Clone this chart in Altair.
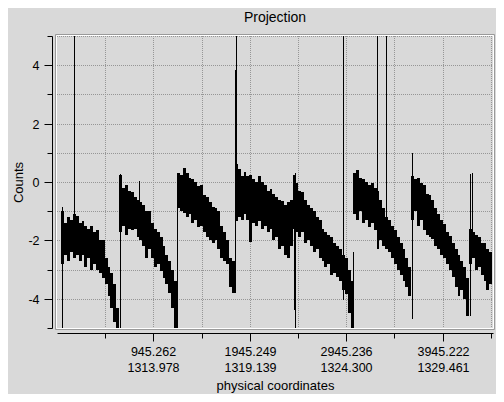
import altair as alt
import pandas as pd

FONT = "Liberation Sans"
TITLE = "Projection"
X_TITLE = "physical coordinates"
Y_TITLE = "Counts"

X_DOMAIN = [0, 4523]
Y_DOMAIN = [-5, 5]
X_TICKS = [500, 1000, 1500, 2000, 2500, 3000, 3500, 4000, 4500]
X_MAJOR = [1000, 2000, 3000, 4000]
X_LABEL_TOP = ["945.262", "1945.249", "2945.236", "3945.222"]
X_LABEL_BOTTOM = ["1313.978", "1319.139", "1324.300", "1329.461"]
Y_TICKS = [-5, -4, -3, -2, -1, 0, 1, 2, 3, 4, 5]

# projection histogram: regular channel bins, upper / lower envelope of counts
BIN_START = 45
BIN_WIDTH = 30
HI = [
    -1.0, -1.4, -1.2, -1.3, -1.1, -1.15, -1.4, -1.35, -1.5, -1.6,
    -1.5, -1.7, -1.65, -2.0, -2.0, -2.6, -2.9, -3.1, -3.5, -4.3,
    0.25, -0.2, -0.1, -0.3, -0.35, -0.5, -0.6, -0.7, -0.8, -1.0,
    -1.0, -1.4, -1.6, -1.7, -1.9, -2.2, -2.5, -2.7, -3.0, -3.4,
    0.3, 0.25, 0.48, 0.3, 0.15, 0.1, 0.0, -0.15, -0.1, -0.45,
    -0.5, -0.7, -0.85, -0.9, -1.0, -1.5, -1.7, -2.0, -2.6, -2.7,
    0.6, 0.45, 0.2, 0.35, 0.2, 0.25, 0.1, 0.0, 0.2, 0.0,
    -0.1, -0.3, -0.25, -0.4, -0.5, -0.6, -0.65, -0.8, -0.7, -0.6,
    0.25, -0.05, -0.3, -0.35, -0.6, -0.8, -0.9, -1.0, -1.2, -1.3,
    -1.6, -1.7, -1.8, -1.9, -2.1, -2.2, -2.3, -2.5, -2.6, -3.0,
    -3.4, 0.3, 0.4, 0.15, 0.1, 0.0, -0.1, -0.05, -0.2, -0.3,
    -0.6, -0.9, -1.2, -1.3, -1.5, -1.65, -1.9, -2.1, -2.3, -2.6,
    -2.9, 0.2, 0.1, 0.15, -0.05, -0.1, -0.4, -0.45, -0.6, -0.9,
    -1.1, -1.3, -1.45, -1.7, -1.85, -2.1, -2.3, -2.5, -2.7, -2.9,
    -3.3, -1.6, -1.7, -1.8, -1.9, -2.1, -2.1, -2.3, -2.4,
]
LO = [
    -2.8, -2.5, -2.7, -2.4, -2.6, -2.5, -2.7, -2.5, -2.9, -2.6,
    -3.0, -2.8, -3.0, -3.1, -3.3, -3.5, -3.9, -4.3, -4.8, -5.0,
    -1.7, -1.5, -1.8, -1.6, -1.65, -1.6, -1.9, -2.0, -2.2, -2.6,
    -2.3, -2.6, -2.9, -2.8, -3.05, -3.3, -3.5, -3.8, -4.3, -5.0,
    -0.9, -1.0, -1.05, -1.2, -1.1, -1.4, -1.3, -1.55, -1.5, -1.7,
    -1.9, -2.0, -2.1, -2.0, -2.3, -2.6, -2.7, -2.8, -3.6, -3.8,
    -1.35, -1.2, -1.3, -1.1, -1.3, -2.05, -1.4, -1.5, -1.35, -1.6,
    -1.5, -1.7, -1.6, -2.0, -1.9, -2.3, -2.2, -2.5, -2.6, -2.2,
    -1.6, -1.7, -1.9, -1.7, -2.1, -2.0, -2.2, -2.4, -2.3, -2.6,
    -2.7, -2.9, -2.8, -3.2, -3.1, -3.25, -3.4, -3.7, -3.85, -4.5,
    -5.0, -1.1, -1.3, -1.0, -1.4, -1.3, -1.55, -1.4, -1.65, -2.3,
    -2.0, -2.2, -2.3, -2.4, -2.6, -2.8, -3.0, -3.2, -3.4, -3.6,
    -3.9, -1.3, -1.0, -1.5, -1.3, -1.65, -1.8, -1.9, -1.95, -2.2,
    -2.3, -2.5, -2.6, -2.8, -3.0, -3.25, -3.6, -3.9, -3.7, -4.0,
    -4.6, -2.8, -2.6, -3.0, -2.9, -3.2, -3.4, -3.7, -3.5,
]

# isolated single-channel spikes / edges
SPIKE_X = [55, 180, 654, 848, 1248, 1846, 1860, 2461, 2469, 2969, 3074, 3081, 3323, 3416, 3686, 4287, 4305]
SPIKE_LO = [-5.0, -1.8, -5.0, -1.0, -5.0, -3.8, -0.5, -4.4, -5.0, -4.05, -5.0, -1.0, -1.0, -1.5, -4.7, -4.6, -1.7]
SPIKE_HI = [-0.85, 5.0, 0.26, 0.05, 0.28, 3.85, 5.0, -1.3, 0.3, 5.0, -2.4, 0.28, 5.0, 5.0, 1.0, 0.28, 0.3]

W, H = 436, 292
GRID = "#969696"

bins = pd.DataFrame({
    "x0": [BIN_START + BIN_WIDTH * i for i in range(len(HI))],
    "x1": [BIN_START + BIN_WIDTH * (i + 1) for i in range(len(HI))],
    "lo": LO,
    "hi": HI,
})
spikes = pd.DataFrame({"x0": SPIKE_X, "lo": SPIKE_LO, "hi": SPIKE_HI})
xgrid = pd.DataFrame({"x0": X_TICKS})
ygrid = pd.DataFrame({"lo": Y_TICKS})

x_expr = "''"
for v, a, b in reversed(list(zip(X_MAJOR, X_LABEL_TOP, X_LABEL_BOTTOM))):
    x_expr = f"datum.value === {v} ? ['{a}', '{b}'] : ({x_expr})"

common_axis = dict(
    grid=False,
    domainColor="black", domainWidth=1, tickColor="black", tickWidth=1, tickSize=8,
    labelColor="black", labelFont=FONT, labelFontSize=12.5,
    labelOverlap=False, titleFont=FONT, titleFontSize=13, titleFontWeight="normal",
    titleColor="black", offset=5,
)

x_axis = alt.Axis(
    values=X_TICKS, title=X_TITLE, labelExpr=x_expr,
    tickDash={"condition": {"test": "datum.value % 1000 === 0", "value": [10, 10]}, "value": [5, 10]},
    labelPadding=4, labelLineHeight=16, labelAlign="center", labelBaseline="top",
    labelFlush=False, titleX=W / 2, titleY=56.5, titleAlign="center",
    titleBaseline="alphabetic", **common_axis,
)
y_axis = alt.Axis(
    values=Y_TICKS, title=Y_TITLE,
    labelExpr="datum.value % 2 === 0 ? '' + datum.value : ''",
    tickDash={"condition": {"test": "datum.value % 2 === 0", "value": [10, 10]}, "value": [5, 10]},
    labelPadding=5, titleAngle=270, titleX=-30, titleY=H / 2, titleAlign="center",
    titleBaseline="alphabetic", **common_axis,
)

x_scale = alt.Scale(domain=X_DOMAIN, nice=False, zero=False, round=True)
y_scale = alt.Scale(domain=Y_DOMAIN, nice=False, zero=False, round=True)
x_enc = alt.X("x0:Q", scale=x_scale, axis=x_axis)
y_enc = alt.Y("lo:Q", scale=y_scale, axis=y_axis)

grid_x = alt.Chart(xgrid).mark_rule(color=GRID, strokeDash=[1, 1], strokeWidth=1, xOffset=0.5).encode(
    x=x_enc, y=alt.value(0), y2=alt.value(H),
)
grid_y = alt.Chart(ygrid).mark_rule(color=GRID, strokeDash=[1, 1], strokeWidth=1, yOffset=0.5).encode(
    y=y_enc, x=alt.value(0), x2=alt.value(W),
)

band = alt.Chart(bins).mark_rect(color="black").encode(
    x=x_enc, x2="x1:Q", y=y_enc, y2="hi:Q",
)

spike_layer = alt.Chart(spikes).mark_rule(color="black", strokeWidth=1, xOffset=0.5).encode(
    x=x_enc, y=y_enc, y2="hi:Q",
)

frame_data = alt.Data(values=[{}])
frame_outer = alt.Chart(frame_data).mark_rect(filled=False, stroke="#9a9a9a", strokeWidth=1).encode(
    x=alt.value(-1.5), x2=alt.value(W + 1.5), y=alt.value(-1.5), y2=alt.value(H + 1.5)
)
frame_inner = alt.Chart(frame_data).mark_rect(filled=False, stroke="#ffffff", strokeWidth=1).encode(
    x=alt.value(-0.5), x2=alt.value(W + 0.5), y=alt.value(-0.5), y2=alt.value(H + 0.5)
)
title_text = alt.Chart(frame_data).mark_text(
    text=TITLE, font=FONT, fontSize=14, color="black", align="center", baseline="alphabetic"
).encode(x=alt.value(W / 2), y=alt.value(-14))

chart = alt.layer(grid_x, grid_y, band, spike_layer, frame_outer, frame_inner, title_text).properties(
    width=W,
    height=H,
    padding={"left": 49, "top": 28, "right": 3, "bottom": 66},
    autosize=alt.AutoSizeParams(type="none"),
    background="#d9d9d9",
).configure_view(stroke=None)

chart.save("out.html", embed_options={"renderer": "svg", "actions": False})
